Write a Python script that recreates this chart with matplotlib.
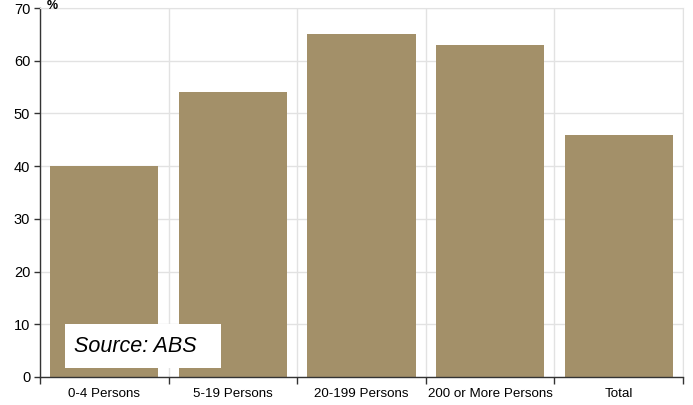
import numpy as np
import matplotlib
matplotlib.use("Agg")
import matplotlib.pyplot as plt
from matplotlib.patches import Rectangle

plt.rcParams['font.family'] = ['Liberation Sans', 'DejaVu Sans']

categories = ['0-4 Persons', '5-19 Persons', '20-199 Persons', '200 or More Persons', 'Total']
values = [40, 54, 65, 63, 46]
y_ticks = [0, 10, 20, 30, 40, 50, 60, 70]

bar_color = '#a39069'
grid_color = '#e2e2e2'

fig = plt.figure(figsize=(6.93, 4.05), dpi=100)
ax = fig.add_axes([40 / 693, 1 - 377 / 405, 643 / 693, 369 / 405])

x = np.arange(len(categories))
ax.bar(x, values, width=0.84, color=bar_color, zorder=2)

ax.set_xlim(-0.5, len(categories) - 0.5)
ax.set_ylim(0, 70)
ax.set_yticks(y_ticks)
ax.set_xticks(x)
ax.set_xticklabels(categories)
ax.set_xticks(np.arange(len(categories) + 1) - 0.5, minor=True)

ax.tick_params(axis='x', which='major', length=0, pad=8, labelsize=9.6)
ax.tick_params(axis='x', which='minor', length=5, width=1, color='#333333', direction='out')
ax.tick_params(axis='y', length=4, width=1, color='#333333', labelsize=10.5, pad=3)

ax.grid(axis='y', which='major', color=grid_color, lw=1, zorder=0)
ax.grid(axis='x', which='minor', color=grid_color, lw=1, zorder=0)
ax.set_axisbelow(True)

for side in ['top', 'right']:
    ax.spines[side].set_color(grid_color)
for side in ['left', 'bottom']:
    ax.spines[side].set_color('#333333')
    ax.spines[side].set_linewidth(1)

# unit label above the y axis, tucked against the top edge
fig.text(47 / 693, 1.0, '%', fontsize=9, fontweight='bold', ha='left', va='top')

# source box
box = Rectangle((25 / 643, 9 / 369), 156 / 643, 44 / 369, transform=ax.transAxes,
                facecolor='white', edgecolor='none', zorder=5)
ax.add_patch(box)
ax.text(34 / 643, 31 / 369, 'Source: ABS', transform=ax.transAxes, fontsize=15.5,
        fontstyle='italic', ha='left', va='center', zorder=6)

fig.savefig('out.png', dpi=100)
